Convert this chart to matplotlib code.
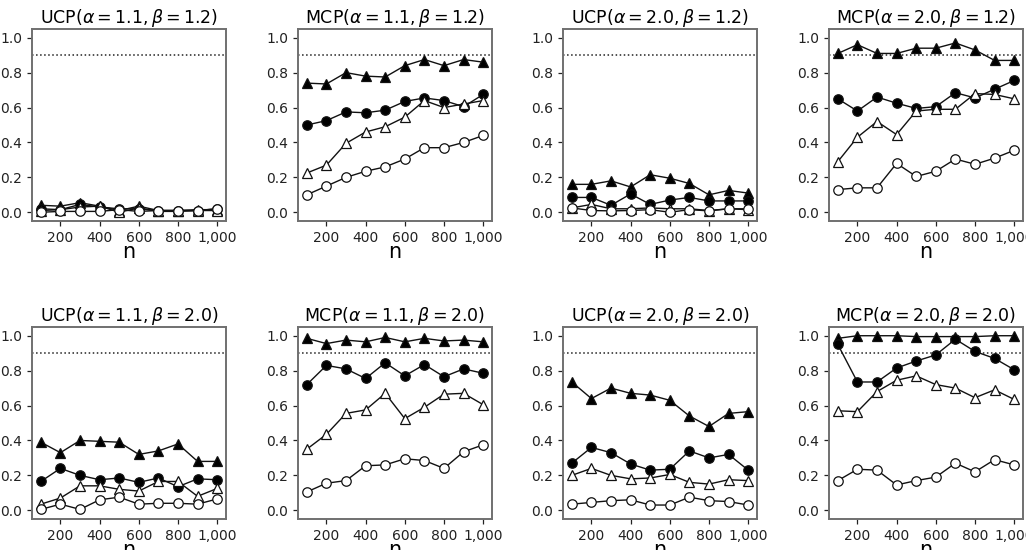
import matplotlib
matplotlib.use("Agg")
import matplotlib.pyplot as plt
from matplotlib.ticker import FuncFormatter

n = [100, 200, 300, 400, 500, 600, 700, 800, 900, 1000]

titles = [
    r"UCP($\alpha=1.1,\beta=1.2$)", r"MCP($\alpha=1.1,\beta=1.2$)",
    r"UCP($\alpha=2.0,\beta=1.2$)", r"MCP($\alpha=2.0,\beta=1.2$)",
    r"UCP($\alpha=1.1,\beta=2.0$)", r"MCP($\alpha=1.1,\beta=2.0$)",
    r"UCP($\alpha=2.0,\beta=2.0$)", r"MCP($\alpha=2.0,\beta=2.0$)",
]

# series per panel: filled triangle, filled circle, open triangle, open circle
p1_ftri = [0.04, 0.035, 0.055, 0.035, 0.01, 0.035, 0.01, 0.01, 0.015, 0.015]
p1_fcir = [0.02, 0.015, 0.045, 0.03, 0.02, 0.02, 0.01, 0.01, 0.01, 0.02]
p1_otri = [0.01, 0.015, 0.03, 0.035, 0.0, 0.025, 0.005, 0.005, 0.01, 0.01]
p1_ocir = [0.0, 0.005, 0.005, 0.005, 0.015, 0.005, 0.01, 0.01, 0.01, 0.02]

p2_ftri = [0.74, 0.735, 0.80, 0.78, 0.775, 0.84, 0.875, 0.84, 0.875, 0.86]
p2_fcir = [0.50, 0.525, 0.575, 0.57, 0.585, 0.635, 0.655, 0.64, 0.605, 0.675]
p2_otri = [0.225, 0.27, 0.395, 0.46, 0.49, 0.545, 0.64, 0.60, 0.62, 0.64]
p2_ocir = [0.10, 0.15, 0.20, 0.235, 0.26, 0.305, 0.37, 0.37, 0.40, 0.44]

p3_ftri = [0.16, 0.16, 0.18, 0.145, 0.215, 0.195, 0.165, 0.10, 0.125, 0.11]
p3_fcir = [0.085, 0.085, 0.04, 0.105, 0.045, 0.07, 0.085, 0.065, 0.065, 0.065]
p3_otri = [0.025, 0.045, 0.02, 0.02, 0.025, 0.02, 0.02, 0.01, 0.02, 0.015]
p3_ocir = [0.025, 0.01, 0.008, 0.01, 0.015, 0.0, 0.015, 0.008, 0.02, 0.02]

p4_ftri = [0.91, 0.96, 0.91, 0.91, 0.94, 0.94, 0.97, 0.93, 0.87, 0.87]
p4_fcir = [0.65, 0.58, 0.66, 0.625, 0.595, 0.605, 0.685, 0.655, 0.705, 0.755]
p4_otri = [0.29, 0.43, 0.52, 0.445, 0.58, 0.59, 0.59, 0.68, 0.675, 0.65]
p4_ocir = [0.13, 0.14, 0.14, 0.28, 0.205, 0.235, 0.305, 0.275, 0.31, 0.355]

p5_ftri = [0.39, 0.33, 0.40, 0.395, 0.39, 0.32, 0.34, 0.38, 0.28, 0.28]
p5_fcir = [0.165, 0.24, 0.20, 0.175, 0.185, 0.16, 0.185, 0.135, 0.18, 0.175]
p5_otri = [0.035, 0.07, 0.14, 0.14, 0.12, 0.11, 0.165, 0.165, 0.08, 0.125]
p5_ocir = [0.005, 0.035, 0.005, 0.06, 0.075, 0.035, 0.04, 0.04, 0.035, 0.065]

p6_ftri = [0.985, 0.955, 0.975, 0.965, 0.99, 0.965, 0.985, 0.97, 0.975, 0.965]
p6_fcir = [0.72, 0.83, 0.81, 0.755, 0.845, 0.77, 0.835, 0.765, 0.81, 0.785]
p6_otri = [0.35, 0.435, 0.555, 0.575, 0.67, 0.525, 0.59, 0.665, 0.67, 0.605]
p6_ocir = [0.105, 0.155, 0.17, 0.255, 0.26, 0.295, 0.285, 0.24, 0.335, 0.375]

p7_ftri = [0.735, 0.64, 0.70, 0.67, 0.66, 0.63, 0.54, 0.48, 0.555, 0.565]
p7_fcir = [0.27, 0.36, 0.33, 0.265, 0.23, 0.235, 0.34, 0.30, 0.32, 0.23]
p7_otri = [0.20, 0.24, 0.20, 0.18, 0.185, 0.205, 0.16, 0.15, 0.175, 0.17]
p7_ocir = [0.035, 0.045, 0.055, 0.06, 0.03, 0.03, 0.075, 0.055, 0.05, 0.03]

p8_ftri = [0.985, 1.0, 1.0, 1.0, 0.995, 0.995, 0.995, 0.995, 1.0, 1.0]
p8_fcir = [0.95, 0.735, 0.735, 0.815, 0.855, 0.89, 0.98, 0.91, 0.87, 0.805]
p8_otri = [0.57, 0.565, 0.68, 0.745, 0.77, 0.72, 0.70, 0.645, 0.69, 0.635]
p8_ocir = [0.17, 0.235, 0.23, 0.145, 0.17, 0.19, 0.27, 0.22, 0.29, 0.26]

panels = [
    (p1_ftri, p1_fcir, p1_otri, p1_ocir),
    (p2_ftri, p2_fcir, p2_otri, p2_ocir),
    (p3_ftri, p3_fcir, p3_otri, p3_ocir),
    (p4_ftri, p4_fcir, p4_otri, p4_ocir),
    (p5_ftri, p5_fcir, p5_otri, p5_ocir),
    (p6_ftri, p6_fcir, p6_otri, p6_ocir),
    (p7_ftri, p7_fcir, p7_otri, p7_ocir),
    (p8_ftri, p8_fcir, p8_otri, p8_ocir),
]

nominal = 0.9

fig = plt.figure(figsize=(10.26, 5.5), dpi=100)
W, H = 1026, 550
lefts = [32, 298, 563, 829]
tops = [29, 327]
aw, ah = 194, 192

styles = [
    dict(marker="^", mfc="black"),
    dict(marker="o", mfc="black"),
    dict(marker="^", mfc="white"),
    dict(marker="o", mfc="white"),
]

fmt = FuncFormatter(lambda v, p: f"{int(v):,}")

for i, (title, series) in enumerate(zip(titles, panels)):
    r, c = divmod(i, 4)
    ax = fig.add_axes([lefts[c] / W, 1 - (tops[r] + ah) / H, aw / W, ah / H])
    ax.axhline(nominal, color="#222222", linestyle=":", linewidth=1.1, zorder=1)
    for s, st in zip(series, styles):
        ax.plot(n, s, color="#111111", linewidth=1.0, marker=st["marker"],
                markerfacecolor=st["mfc"], markeredgecolor="#111111",
                markersize=6.8, markeredgewidth=0.9, zorder=3)
    ax.set_ylim(-0.05, 1.05)
    ax.set_xticks([200, 400, 600, 800, 1000])
    ax.xaxis.set_major_formatter(fmt)
    ax.set_yticks([0.0, 0.2, 0.4, 0.6, 0.8, 1.0])
    ax.tick_params(labelsize=10, colors="#222222", length=3.5, width=0.9)
    for sp in ax.spines.values():
        sp.set_color("#707070")
        sp.set_linewidth(1.4)
    ax.set_title(title, fontsize=12.5, pad=3.5)
    ax.set_xlabel("n", fontsize=15, labelpad=-2)

fig.savefig("out.png", dpi=100)
